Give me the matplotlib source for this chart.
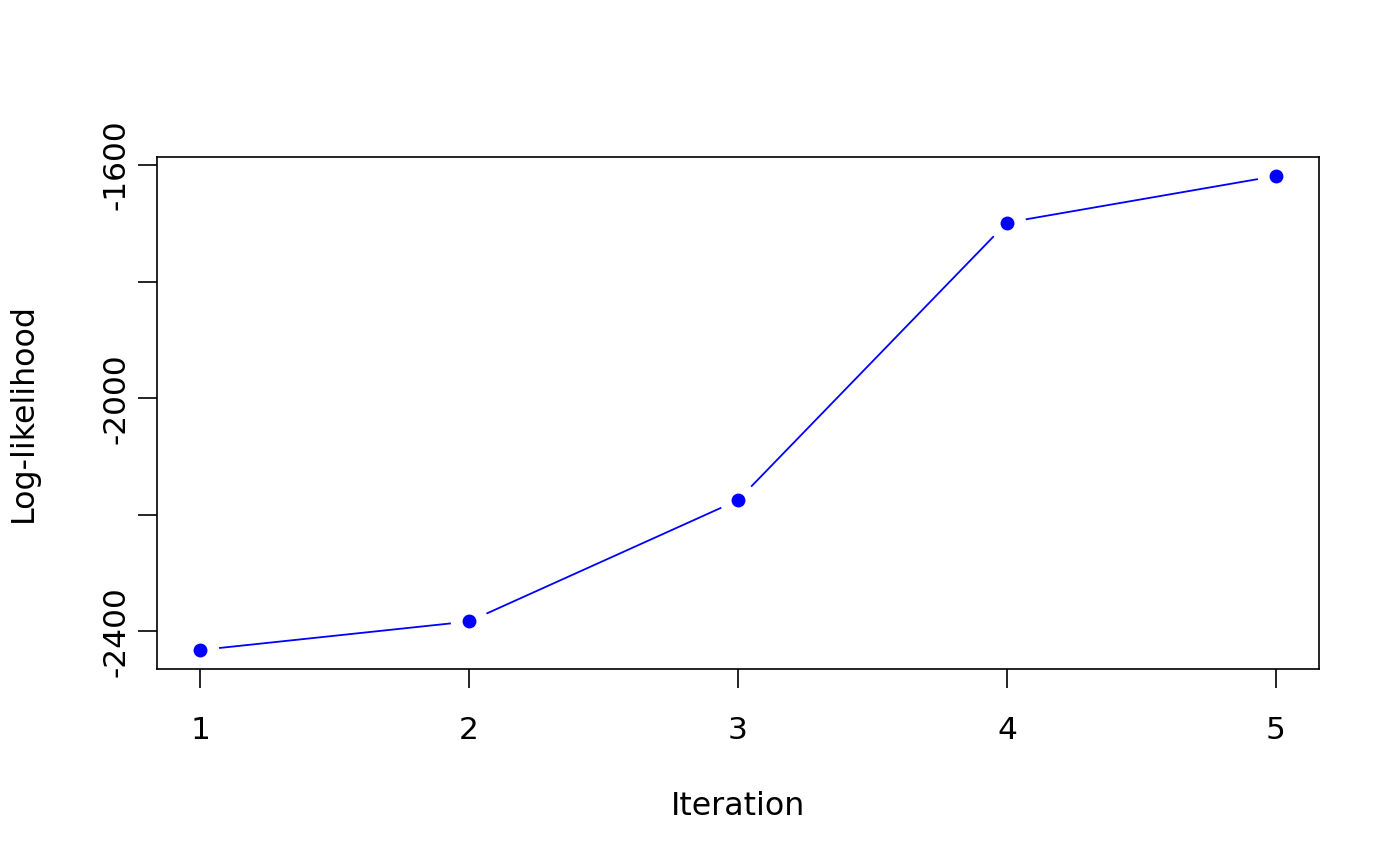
import numpy as np
import matplotlib.pyplot as plt

# log-likelihood per EM iteration
iteration = [1, 2, 3, 4, 5]
loglik = [-2432, -2383, -2175, -1699, -1619]

y_ticks = [-2400, -2200, -2000, -1800, -1600]
y_labels = ["-2400", "", "-2000", "", "-1600"]

fig = plt.figure(figsize=(14, 8.66), dpi=100)
ax = fig.add_axes([157 / 1400, 1 - 669 / 866, (1319 - 157) / 1400, (669 - 157) / 866])

ax.plot(iteration, loglik, color="blue", lw=1.3, zorder=2)
# white halo gives R's type="b" gaps
ax.plot(iteration, loglik, "o", ms=27, color="white", mec="none", zorder=3)
ax.plot(iteration, loglik, "o", ms=10, color="blue", mec="none", zorder=4)

# R default 4% axis padding
xr = max(iteration) - min(iteration)
yr = max(loglik) - min(loglik)
ax.set_xlim(min(iteration) - 0.04 * xr, max(iteration) + 0.04 * xr)
ax.set_ylim(min(loglik) - 0.04 * yr, max(loglik) + 0.04 * yr)

ax.set_xticks(iteration)
ax.set_yticks(y_ticks)
ax.set_yticklabels(y_labels, rotation=90, va="center")

for s in ax.spines.values():
    s.set_linewidth(1.2)
    s.set_zorder(5)
ax.tick_params(length=14, width=1.2, labelsize=22.5)
ax.tick_params(axis="x", pad=20)
ax.tick_params(axis="y", pad=5)

ax.set_xlabel("Iteration", fontsize=22.8, labelpad=33)
ax.set_ylabel("Log-likelihood", fontsize=22.8, labelpad=45)

fig.savefig("out.png", dpi=100)
